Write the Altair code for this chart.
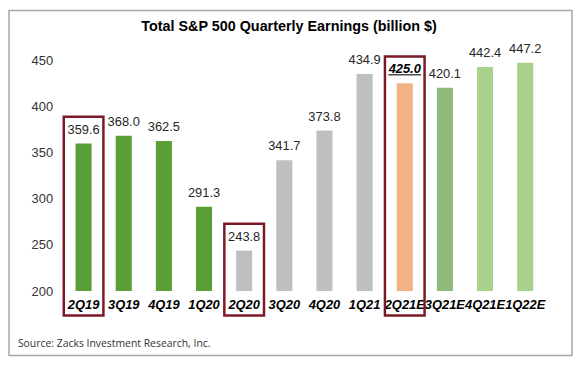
import altair as alt
import pandas as pd

# ---- data ----
quarters = ["2Q19", "3Q19", "4Q19", "1Q20", "2Q20", "3Q20", "4Q20", "1Q21",
            "2Q21E", "3Q21E", "4Q21E", "1Q22E"]
earnings = [359.6, 368.0, 362.5, 291.3, 243.8, 341.7, 373.8, 434.9,
            425.0, 420.1, 442.4, 447.2]
groups = ["pre", "pre", "pre", "pre", "covid", "covid", "covid", "covid",
          "current", "next", "later", "later"]
highlighted = ["2Q19", "2Q20", "2Q21E"]
current_quarter = "2Q21E"
y_ticks = [200, 250, 300, 350, 400, 450]
title_text = "Total S&P 500 Quarterly Earnings (billion $)"
source_text = "Source: Zacks Investment Research, Inc."

group_names = ["pre", "covid", "current", "next", "later"]
group_colors = ["#5A9E38", "#BFBFBF", "#F4B183", "#8EBB79", "#A9D18E"]

df = pd.DataFrame({"quarter": quarters, "earnings": earnings, "group": groups})
df["label"] = df["earnings"].map(lambda v: f"{v:.1f}")
df["box_top"] = df["earnings"] + 29
df["box_bottom"] = 173.5

FONT = "Liberation Sans"

x_enc = alt.X("quarter:N", sort=quarters,
              scale=alt.Scale(paddingInner=0.6, paddingOuter=0.3),
              axis=alt.Axis(title=None, labelAngle=0, ticks=False, domain=False,
                            labelFontSize=13, labelFont=FONT, labelFontWeight="bold",
                            labelFontStyle="italic", labelColor="#000000",
                            labelPadding=8, labelOverlap=False, labelBound=False))
y_scale = alt.Scale(domain=[200, 450], zero=False, nice=False)

base = alt.Chart(df)

bars = base.mark_bar().encode(
    x=x_enc,
    y=alt.Y("earnings:Q", scale=y_scale,
            axis=alt.Axis(values=y_ticks, grid=False, domain=False, ticks=False,
                          title=None, labelPadding=11, labelFontSize=13,
                          labelFont=FONT, labelColor="#333333")),
    y2=alt.datum(200),
    color=alt.Color("group:N", scale=alt.Scale(domain=group_names, range=group_colors),
                    legend=None),
)

labels = base.transform_filter(
    alt.datum.quarter != current_quarter
).mark_text(dy=-14, baseline="middle", fontSize=13, font=FONT, color="#262626").encode(
    x=alt.X("quarter:N", sort=quarters), y=alt.Y("earnings:Q"), text="label:N")

cur_label = base.transform_filter(
    alt.datum.quarter == current_quarter
).mark_text(dy=-14.5, baseline="middle", fontSize=13, font=FONT, color="#000000",
            fontWeight="bold", fontStyle="italic").encode(
    x=alt.X("quarter:N", sort=quarters), y=alt.Y("earnings:Q"), text="label:N")

underline = base.transform_filter(
    alt.datum.quarter == current_quarter
).mark_tick(yOffset=-8.5, size=33, thickness=1.5, color="#000000").encode(
    x=alt.X("quarter:N", sort=quarters), y=alt.Y("earnings:Q"))

boxes = base.transform_filter(
    alt.FieldOneOfPredicate(field="quarter", oneOf=highlighted)
).mark_bar(width=40, fillOpacity=0, stroke="#7B1A26", strokeWidth=2.5).encode(
    x=alt.X("quarter:N", sort=quarters),
    y=alt.Y("box_top:Q"), y2=alt.Y2("box_bottom:Q"))

one = alt.Chart(pd.DataFrame({"a": [0]}))
frame = one.mark_rect(fill=None, stroke="#A6A6A6", strokeWidth=1.5).encode(
    x=alt.value(-55), x2=alt.value(513), y=alt.value(-50), y2=alt.value(298))
title = one.mark_text(align="center", baseline="middle", fontSize=14.5, font=FONT,
                      fontWeight="bold", color="#000000").encode(
    x=alt.value(227.5), y=alt.value(-33.5), text=alt.value(title_text))
source = one.mark_text(align="left", baseline="middle", fontSize=10.5,
                       font="Open Sans", color="#333333").encode(
    x=alt.value(-46), y=alt.value(286), text=alt.value(source_text))

chart = alt.layer(frame, bars, boxes, labels, cur_label, underline, title, source).properties(
    width=486, height=233,
    autosize=alt.AutoSizeParams(type="none"),
    padding={"left": 56, "top": 51, "right": 30, "bottom": 70},
).configure_view(stroke=None)

chart.save("out.html", embed_options={"renderer": "svg", "actions": False})
